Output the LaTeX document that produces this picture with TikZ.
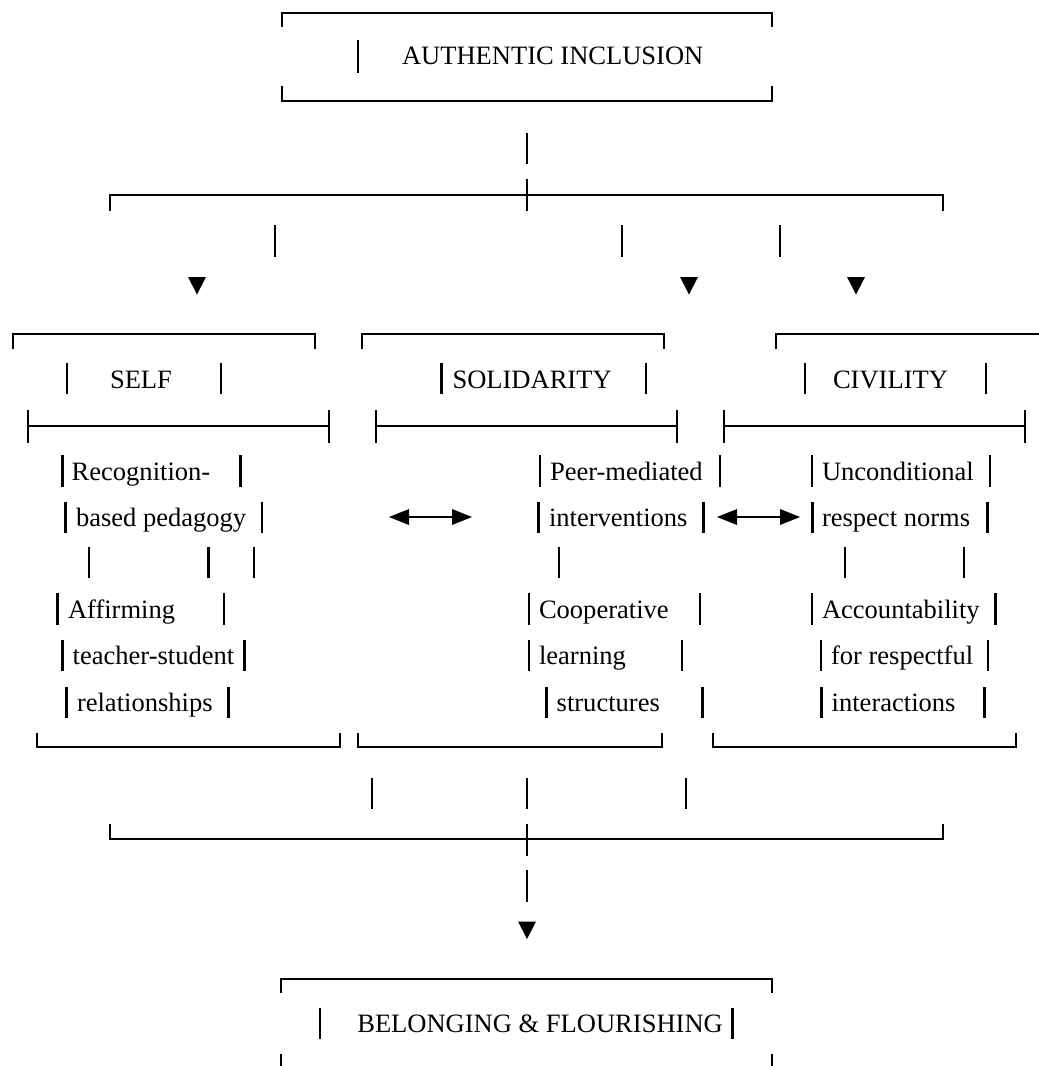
\documentclass[tikz,border=0pt]{standalone}
\usepackage{fontspec}
\setmainfont{Liberation Serif}
\begin{document}
\begin{tikzpicture}[x=0.75pt,y=-0.75pt,
  hline/.style={line width=1.65pt,line join=miter},
  barline/.style={line width=1.9pt},
  txt/.style={anchor=base west,inner sep=0pt,outer sep=0pt,font=\fontsize{19.9}{24}\selectfont},
  downtri/.pic={\fill (-9,-9) -- (9,-9) -- (0,8.5) -- cycle;},
  lrarrow/.pic={\fill (0,0) -- (20,-8) -- (20,8) -- cycle;
                \draw[line width=1.6pt] (19,0) -- (64,0);
                \fill (83,0) -- (63,-8) -- (63,8) -- cycle;}]
\useasboundingbox (0,0) rectangle (1038,1066);
% ---------- top box ----------
\draw[hline] (281.7,27) -- (281.7,12.7) -- (772.3,12.7) -- (772.3,27);
\draw[barline] (358,40) -- (358,73);
\node[txt] (ai) at (402,65) {AUTHENTIC INCLUSION};
\draw[hline] (281.7,86) -- (281.7,101) -- (772.3,101) -- (772.3,86);
% ---------- fork ----------
\draw[barline] (527,133) -- (527,164);
\draw[hline] (110,211) -- (110,195) -- (943,195) -- (943,211);
\draw[hline] (527,179) -- (527,211);
\foreach \x in {275,622,780} \draw[barline] (\x,225) -- (\x,257);
\foreach \x in {197,689,856} \pic at (\x,286) {downtri};
% ---------- column headers ----------
\draw[hline] (13,349) -- (13,334) -- (315,334) -- (315,349);
\draw[hline] (362,349) -- (362,334) -- (664,334) -- (664,349);
\draw[hline] (776,349) -- (776,334) -- (1040,334);
\draw[barline] (67,363) -- (67,394);
\node[txt] (self) at (110,388) {SELF};
\draw[barline] (221,363) -- (221,394);
\draw[barline] (441.7,363) -- (441.7,394);
\node[txt] (sol) at (452.5,388) {SOLIDARITY};
\draw[barline] (646,363) -- (646,394);
\draw[barline] (805,363) -- (805,394);
\node[txt] (civ) at (833,388) {CIVILITY};
\draw[barline] (986,363) -- (986,394);
\foreach \a/\b in {27.7/329.3,375.7/676.7,724/1025}{
  \draw[hline] (\a,426) -- (\b,426);
  \draw[hline] (\a,410) -- (\a,443);
  \draw[hline] (\b,410) -- (\b,443);
}
% ---------- left column ----------
\draw[barline] (62.7,455) -- (62.7,487);
\node[txt] (l1) at (71.7,480) {Recognition-};
\draw[barline] (240.7,455) -- (240.7,487);
\draw[barline] (65.7,502) -- (65.7,533);
\node[txt] (l2) at (76,526) {based pedagogy};
\draw[barline] (262,502) -- (262,533);
\foreach \x in {89,208.7,254} \draw[barline] (\x,547) -- (\x,578);
\draw[barline] (57.3,593) -- (57.3,625);
\node[txt] (l3) at (68,618) {Affirming};
\draw[barline] (224,593) -- (224,625);
\draw[barline] (62.7,640) -- (62.7,671);
\node[txt] (l4) at (72.7,664) {teacher-student};
\draw[barline] (244.3,640) -- (244.3,671);
\draw[barline] (66.7,687) -- (66.7,718);
\node[txt] (l5) at (77,711) {relationships};
\draw[barline] (228.7,687) -- (228.7,718);
\pic at (389,517) {lrarrow};
% ---------- middle column ----------
\draw[barline] (540,455) -- (540,487);
\node[txt] (m1) at (550,480) {Peer-mediated};
\draw[barline] (720,455) -- (720,487);
\draw[barline] (538.3,502) -- (538.3,533);
\node[txt] (m2) at (549,526) {interventions};
\draw[barline] (703.3,502) -- (703.3,533);
\draw[barline] (559,547) -- (559,578);
\draw[barline] (529,593) -- (529,625);
\node[txt] (m3) at (539,618) {Cooperative};
\draw[barline] (700,593) -- (700,625);
\draw[barline] (529,640) -- (529,671);
\node[txt] (m4) at (539,664) {learning};
\draw[barline] (682,640) -- (682,671);
\draw[barline] (546.7,687) -- (546.7,718);
\node[txt] (m5) at (556.7,711) {structures};
\draw[barline] (702.3,687) -- (702.3,718);
\pic at (717,517) {lrarrow};
% ---------- right column ----------
\draw[barline] (812,455) -- (812,487);
\node[txt] (r1) at (822,480) {Unconditional};
\draw[barline] (990,455) -- (990,487);
\draw[barline] (812.3,502) -- (812.3,533);
\node[txt] (r2) at (822,526) {respect norms};
\draw[barline] (987.3,502) -- (987.3,533);
\foreach \x in {845,964} \draw[barline] (\x,547) -- (\x,578);
\draw[barline] (812,593) -- (812,625);
\node[txt] (r3) at (822,618) {Accountability};
\draw[barline] (995.7,593) -- (995.7,625);
\draw[barline] (821,640) -- (821,671);
\node[txt] (r4) at (831,664) {for respectful};
\draw[barline] (988,640) -- (988,671);
\draw[barline] (821.7,687) -- (821.7,718);
\node[txt] (r5) at (831.7,711) {interactions};
\draw[barline] (984.3,687) -- (984.3,718);
% ---------- bottom brackets ----------
\foreach \a/\b in {36.7/340,358/661.7,713/1016}
  \draw[hline] (\a,733) -- (\a,747) -- (\b,747) -- (\b,733);
\foreach \x in {372,527,686} \draw[barline] (\x,778) -- (\x,809);
\draw[hline] (110,824) -- (110,839) -- (943,839) -- (943,824);
\draw[hline] (527,824) -- (527,856);
\draw[barline] (527,870) -- (527,902);
\pic at (527,930.5) {downtri};
% ---------- bottom box ----------
\draw[hline] (281,993) -- (281,979) -- (772,979) -- (772,993);
\draw[barline] (320,1008) -- (320,1039);
\node[txt] (bf) at (357.3,1032) {BELONGING \& FLOURISHING};
\draw[barline] (732.7,1008) -- (732.7,1039);
\draw[hline] (281,1054) -- (281,1068);
\draw[hline] (772,1054) -- (772,1068);
\end{tikzpicture}
\end{document}
